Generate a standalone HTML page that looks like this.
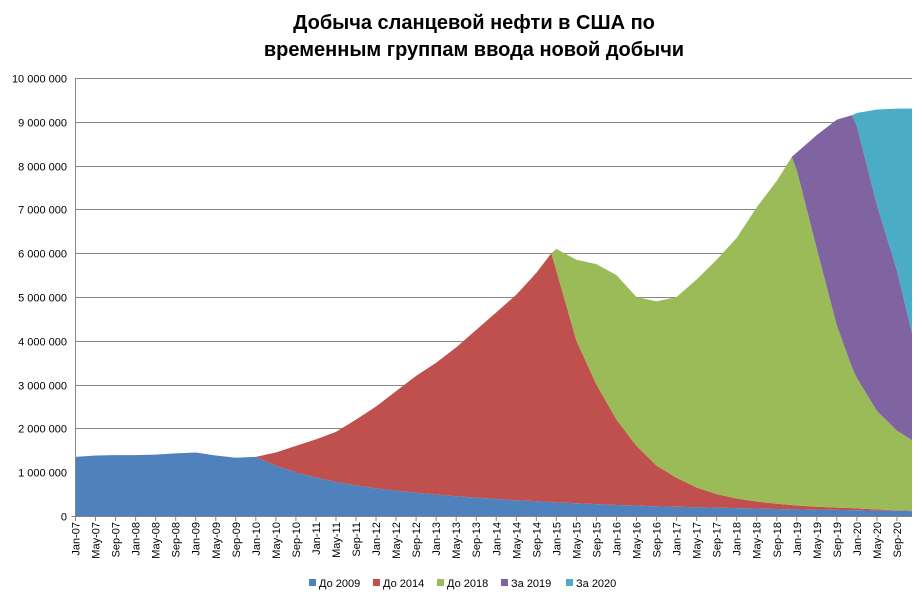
<!DOCTYPE html>
<html><head><meta charset="utf-8"><style>
body{margin:0;background:#fff;font-family:"Liberation Sans",Arial,sans-serif;}
svg text{font-family:"Liberation Sans",Arial,sans-serif;}
</style></head><body>
<svg id="chart" width="922" height="598" xmlns="http://www.w3.org/2000/svg">
<text x="474" y="29" text-anchor="middle" font-size="20" font-weight="bold">Добыча сланцевой нефти в США по</text>
<text x="474" y="56" text-anchor="middle" font-size="20" font-weight="bold">временным группам ввода новой добычи</text>
<g id="grid"></g>
<g id="areas"></g>
<g id="axes"></g>
<g id="legend"></g>
</svg>
<script>
const months = ["Jan-07","May-07","Sep-07","Jan-08","May-08","Sep-08","Jan-09","May-09","Sep-09","Jan-10","May-10","Sep-10","Jan-11","May-11","Sep-11","Jan-12","May-12","Sep-12","Jan-13","May-13","Sep-13","Jan-14","May-14","Sep-14","Dec-14","Jan-15","May-15","Sep-15","Jan-16","May-16","Sep-16","Jan-17","May-17","Sep-17","Jan-18","May-18","Sep-18","Dec-18","Jan-19","May-19","Sep-19","Dec-19","Jan-20","May-20","Sep-20","Dec-20"];
const do2009 = [1.35,1.38,1.39,1.39,1.40,1.43,1.45,1.38,1.33,1.35,1.15,1.0,0.88,0.78,0.70,0.63,0.58,0.53,0.49,0.45,0.42,0.39,0.36,0.34,0.32,0.31,0.29,0.27,0.25,0.24,0.22,0.21,0.20,0.19,0.18,0.17,0.16,0.15,0.15,0.14,0.14,0.13,0.13,0.12,0.12,0.11];
const do2014 = [0,0,0,0,0,0,0,0,0,0,0.30,0.6,0.87,1.14,1.5,1.87,2.27,2.67,3.01,3.4,3.83,4.26,4.69,5.21,5.68,5.29,3.71,2.73,1.95,1.36,0.93,0.66,0.45,0.31,0.22,0.16,0.12,0.10,0.09,0.07,0.05,0.05,0.04,0.03,0.01,0.01];
const do2018 = [0,0,0,0,0,0,0,0,0,0,0,0,0,0,0,0,0,0,0,0,0,0,0,0,0,0.5,1.85,2.75,3.3,3.4,3.75,4.13,4.75,5.35,5.95,6.72,7.37,7.95,7.66,5.89,4.16,3.22,2.98,2.25,1.82,1.61];
const za2019 = [0,0,0,0,0,0,0,0,0,0,0,0,0,0,0,0,0,0,0,0,0,0,0,0,0,0,0,0,0,0,0,0,0,0,0,0,0,0,0.4,2.6,4.7,5.75,5.75,4.7,3.65,2.45];
const za2020 = [0,0,0,0,0,0,0,0,0,0,0,0,0,0,0,0,0,0,0,0,0,0,0,0,0,0,0,0,0,0,0,0,0,0,0,0,0,0,0,0,0,0,0.3,2.18,3.7,5.12];
const seriesNames = ["До 2009","До 2014","До 2018","За 2019","За 2020"];
const yTicks = ["0","1 000 000","2 000 000","3 000 000","4 000 000","5 000 000","6 000 000","7 000 000","8 000 000","9 000 000","10 000 000"];
const xTickLabels = ["Jan-07","May-07","Sep-07","Jan-08","May-08","Sep-08","Jan-09","May-09","Sep-09","Jan-10","May-10","Sep-10","Jan-11","May-11","Sep-11","Jan-12","May-12","Sep-12","Jan-13","May-13","Sep-13","Jan-14","May-14","Sep-14","Jan-15","May-15","Sep-15","Jan-16","May-16","Sep-16","Jan-17","May-17","Sep-17","Jan-18","May-18","Sep-18","Jan-19","May-19","Sep-19","Jan-20","May-20","Sep-20"];

const NS="http://www.w3.org/2000/svg";
const colors=["#4F81BD","#C0504D","#9BBB59","#8064A2","#4BACC6"];
const X0=75.5,X1=912,Y0=516,YTOP=78,MAXV=10;
const MN={Jan:0,Feb:1,Mar:2,Apr:3,May:4,Jun:5,Jul:6,Aug:7,Sep:8,Oct:9,Nov:10,Dec:11};
function monthIndex(l){const[m,y]=l.split("-");return (parseInt(y)-7)*12+MN[m];}
function xScale(l){return X0+monthIndex(l)*(X1-X0)/167;}
function yScale(v){return Y0-v*(Y0-YTOP)/MAXV;}
function mk(t,a,p){const e=document.createElementNS(NS,t);for(const k in a)e.setAttribute(k,a[k]);p.appendChild(e);return e;}

const grid=document.getElementById("grid"),axes=document.getElementById("axes"),areas=document.getElementById("areas"),legend=document.getElementById("legend");
yTicks.forEach((t,i)=>{
  const y=Math.round(yScale(i))+0.5;
  if(i>0){const g=mk("line",{x1:X0,x2:X1,y1:y,y2:y,stroke:"#868686","stroke-width":1},grid);
  
  }
  const tx=mk("text",{x:67,y:y+4,"text-anchor":"end","font-size":11},axes);
  
  
  tx.textContent=t;
});
const series=[do2009,do2014,do2018,za2019,za2020];
let base=months.map(()=>0);
series.forEach((s,si)=>{
  const top=base.map((b,i)=>b+s[i]);
  let d="";
  months.forEach((m,i)=>{d+=(i?"L":"M")+xScale(m).toFixed(2)+","+yScale(top[i]).toFixed(2);});
  for(let i=months.length-1;i>=0;i--){d+="L"+xScale(months[i]).toFixed(2)+","+yScale(base[i]).toFixed(2);}
  const p=mk("path",{d:d+"Z",fill:colors[si]},areas);
  
  
  base=top;
});
const ax=mk("line",{x1:X0,x2:X0,y1:YTOP,y2:Y0,stroke:"#868686"},axes);


const bx=mk("line",{x1:X0-4,x2:X1,y1:Y0+0.5,y2:Y0+0.5,stroke:"#868686"},axes);


xTickLabels.forEach(l=>{
  const x=xScale(l);
  const tk=mk("line",{x1:x,x2:x,y1:Y0,y2:Y0+5,stroke:"#868686"},axes);
  
  
  const t=mk("text",{x:0,y:0,"text-anchor":"end","font-size":11,transform:`translate(${x+4},${Y0+6}) rotate(-90)`},axes);
  
  
  t.textContent=l;
});
const lx=[309,373,437,501,566];
seriesNames.forEach((n,i)=>{
  const r=mk("rect",{x:lx[i],y:579,width:7,height:7,fill:colors[i]},legend);
  
  
  const t=mk("text",{x:lx[i]+10,y:587,"font-size":11},legend);
  
  
  t.textContent=n;
});
</script>
</body></html>
